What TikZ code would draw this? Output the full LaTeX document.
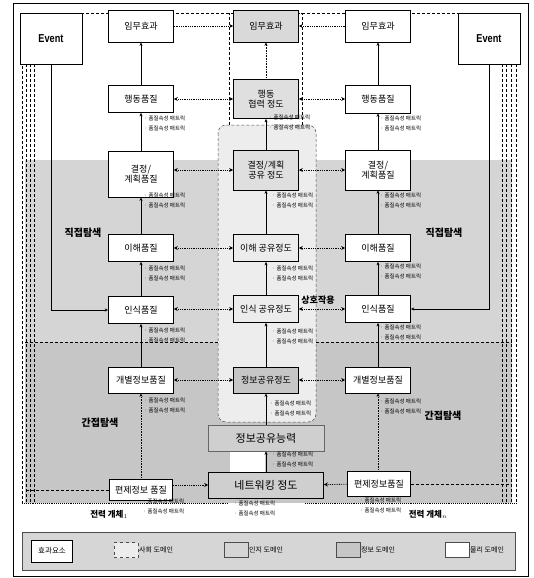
\documentclass[tikz,border=0pt]{standalone}
\usepackage{fontspec}
\usepackage{graphicx}
\newfontfamily\kr{Noto Sans CJK KR}
\newfontfamily\evf{Liberation Sans}
\usetikzlibrary{arrows.meta}
\begin{document}
\begin{tikzpicture}[x=1pt,y=-1pt]
\tikzset{
 eff/.style={draw=black, line width=0.7pt, fill=white, minimum width=65pt, inner sep=1pt, align=center, font=\kr\fontsize{9}{10.5}\selectfont},
 ceff/.style={eff, fill=gray!28},
 met/.style={anchor=north west, inner sep=0pt, align=left, font=\kr\fontsize{5.5}{10}\selectfont},
 harr/.style={densely dotted, line width=0.8pt, {Stealth[length=4pt,width=4pt]}-{Stealth[length=4pt,width=4pt]}},
 harrone/.style={densely dotted, line width=0.8pt, -{Stealth[length=4pt,width=4pt]}},
 varr/.style={line width=0.5pt, -{Stealth[length=3.5pt,width=3pt]}},
 vdot/.style={densely dotted, line width=0.6pt, -{Stealth[length=3.5pt,width=3pt]}},
 bnd/.style={line width=0.5pt, dash pattern=on 3pt off 2pt},
 big/.style={font=\kr\bfseries\fontsize{10}{12}\selectfont, inner sep=0pt},
 evbox/.style={draw, line width=0.7pt, fill=white, minimum width=62pt, minimum height=51pt, font=\evf\bfseries\fontsize{11.5}{12}\selectfont},
 sw/.style={draw=black!70, line width=0.5pt, minimum width=24pt, minimum height=15pt, inner sep=0pt},
 lgt/.style={anchor=west, inner sep=0pt, font=\kr\fontsize{7}{8}\selectfont}
}
\useasboundingbox (0,0) rectangle (533,578);
\fill[white] (0,0) rectangle (533,578);
% domains
\fill[gray!33] (25,160) rectangle (512,342);
\fill[gray!45] (25,342) rectangle (512,503);
\filldraw[fill=gray!14, draw=black!70, bnd, rounded corners=8pt] (218,125) rectangle (316,422);
\fill[white] (230,452) rectangle (265,472);
\draw[bnd] (25,342) -- (218,342);
\draw[bnd] (316,342) -- (512,342);
% entity boundaries
\draw[bnd] (302,125) -- (302,13) -- (22,13) -- (22,503);
\draw[bnd] (229,125) -- (229,13) -- (516,13) -- (516,503);
\draw[densely dotted, line width=0.9pt] (22,503) -- (228,503);
\draw[densely dotted, line width=0.9pt] (305,503) -- (516,503);
\foreach \xx in {26,30,34} \draw[densely dashed, line width=0.4pt] (\xx,64) -- (\xx,503);
\foreach \xx in {502,506,511} \draw[densely dashed, line width=0.4pt] (\xx,64) -- (\xx,503);
% outer frame
\draw[line width=0.8pt] (13,3) rectangle (528,576);

% Event boxes
\node[evbox] (evL) at (51,38.5) {\scalebox{0.8}[1]{Event}};
\node[evbox] (evR) at (489,38.5) {\scalebox{0.8}[1]{Event}};

% left column
\node[eff, minimum height=32pt] (L1) at (141,26) {임무효과};
\node[eff, minimum height=27pt] (L2) at (141,99) {행동품질};
\node[eff, minimum height=46pt] (L3) at (141,174) {결정/\\계획품질};
\node[eff, minimum height=27pt] (L4) at (141,248) {이해품질};
\node[eff, minimum height=27pt] (L5) at (141,310) {인식품질};
\node[eff, minimum height=26pt] (L6) at (141,380) {개별정보품질};
\node[eff, minimum height=21pt, minimum width=63pt] (L7) at (141,490) {편제정보 품질};
% right column
\node[eff, minimum height=32pt] (R1) at (378,26) {임무효과};
\node[eff, minimum height=28pt] (R2) at (378,99) {행동품질};
\node[eff, minimum height=40pt] (R3) at (378,170) {결정/\\계획품질};
\node[eff, minimum height=27pt] (R4) at (378,248) {이해품질};
\node[eff, minimum height=27pt] (R5) at (378,309) {인식품질};
\node[eff, minimum height=26pt] (R6) at (378,380) {개별정보품질};
\node[eff, minimum height=25pt, minimum width=63pt] (R7) at (379,484) {편제정보품질};
% center column
\node[ceff, minimum height=32pt, fill=gray!30] (C1) at (266,26) {임무효과};
\node[ceff, minimum height=39pt, fill=gray!25] (C2) at (266,99) {행동\\협력 정도};
\node[ceff, minimum height=40pt, fill=gray!25] (C3) at (266,170) {결정/계획\\공유 정도};
\node[ceff, minimum height=27pt, fill=gray!15] (C4) at (266,248) {이해 공유정도};
\node[ceff, minimum height=27pt, fill=gray!15] (C5) at (266,309) {인식 공유정도};
\node[ceff, minimum height=26pt, fill=gray!45] (C6) at (266,380) {정보공유정도};
\node[ceff, minimum height=26pt, minimum width=116pt, fill=gray!38, draw=black!60, font=\kr\fontsize{11}{12}\selectfont] (C7) at (266,438) {정보공유능력};
\node[ceff, minimum height=26pt, minimum width=115pt, fill=gray!38, font=\kr\fontsize{11}{12}\selectfont] (C8) at (266,485) {네트워킹 정도};

% Event arrows
\draw[varr, line width=0.6pt] (evL.south) |- (L5.west);
\draw[varr, line width=0.6pt] (evR.south) |- (R5.east);

% vertical arrows
\draw[varr] (L2) -- (L1);
\draw[varr] (L3) -- (L2);
\draw[varr] (L4) -- (L3);
\draw[varr] (L5) -- (L4);
\draw[varr] (L6) -- (L5);
\draw[vdot] (L7) -- (L6);
\draw[varr] (R2) -- (R1);
\draw[varr] (R3) -- (R2);
\draw[varr] (R4) -- (R3);
\draw[varr] (R5) -- (R4);
\draw[varr] (R6) -- (R5);
\draw[vdot] (R7.north -| R6) -- (R6);
\draw[vdot] (C2) -- (C1);
\draw[varr] (C3) -- (C2);
\draw[varr] (C4) -- (C3);
\draw[varr] (C5) -- (C4);
\draw[varr] (C6) -- (C5);
\draw[varr] (C7) -- (C6);
\draw[varr] (C8) -- (C7);

% horizontal arrows
\draw[harrone] (L1) -- (C1);
\draw[harrone] (R1) -- (C1);
\draw[harr] (L2) -- (C2);
\draw[harr] (R2) -- (C2);
\draw[harr] (L3.east |- C3) -- (C3);
\draw[harr] (R3) -- (C3);
\draw[harr] (L4) -- (C4);
\draw[harr] (R4) -- (C4);
\draw[harr] (L5.east |- C5) -- (C5);
\draw[harr] (R5) -- (C5);
\draw[harr] (L6) -- (C6);
\draw[harr] (R6) -- (C6);
\draw[harrone] (L7.east |- C8) -- (C8);
\draw[harrone] (R7) -- (C8);
\coordinate (dlL) at (25,490);
\coordinate (dlR) at (512,484);
\draw[bnd] (L7) -- (dlL);
\draw[bnd] (R7) -- (dlR);

% metric labels
\def\mt{· 품질속성 매트릭\\· 품질속성 매트릭}
\node[met] (ml1) at (144,116) {\mt};
\node[met] (ml2) at (144,193) {\mt};
\node[met] (ml3) at (144,266) {\mt};
\node[met] (ml4) at (144,328) {\mt};
\node[met] (ml5) at (144,398) {\mt};
\node[met] (ml6) at (143,499) {\mt};
\node[met] (mr1) at (380,116) {\mt};
\node[met] (mr2) at (380,193) {\mt};
\node[met] (mr3) at (380,264) {\mt};
\node[met] (mr4) at (380,325) {\mt};
\node[met] (mr5) at (380,399) {\mt};
\node[met] (mr6) at (360,498) {\mt};
\node[met] (mc1) at (269,115) {\mt};
\node[met] (mc2) at (272,193) {\mt};
\node[met] (mc3) at (272,266) {\mt};
\node[met] (mc4) at (272,329) {\mt};
\node[met] (mc5) at (270,401) {\mt};
\node[met] (mc6) at (272,452) {\mt};
\node[met] (mc7) at (234,501) {\mt};

% region labels
\node[big] (dsL) at (83,233) {직접탐색};
\node[big] (dsR) at (444,233) {직접탐색};
\node[big] (isL) at (100,423) {간접탐색};
\node[big] (isR) at (443,416) {간접탐색};
\node[big, font=\kr\bfseries\fontsize{9}{11}\selectfont] (inter) at (318,300) {상호작용};
\node[big, font=\kr\bfseries\fontsize{8.5}{10}\selectfont] (en1) at (109,514) {전력 개체$_1$};
\node[big, font=\kr\bfseries\fontsize{8.5}{10}\selectfont] (enn) at (428,514) {전력 개체$_n$};

% legend
\filldraw[fill=gray!32, draw=black!70, line width=0.6pt] (22,532) rectangle (515,570);
\node[draw, line width=0.7pt, fill=white, minimum width=41pt, minimum height=22pt, inner sep=0pt, font=\kr\fontsize{7.5}{9}\selectfont] (lg0) at (52,551) {효과요소};
\node[sw, fill=gray!14, dashed] (lg1) at (126,550) {};
\node[lgt] (lt1) at (139,550) {사회 도메인};
\node[sw, fill=gray!33] (lg2) at (236,550) {};
\node[lgt] (lt2) at (249,550) {인지 도메인};
\node[sw, fill=gray!45] (lg3) at (348,550) {};
\node[lgt] (lt3) at (361,550) {정보 도메인};
\node[sw, fill=white] (lg4) at (457,550) {};
\node[lgt] (lt4) at (470,550) {물리 도메인};
\end{tikzpicture}
\end{document}
